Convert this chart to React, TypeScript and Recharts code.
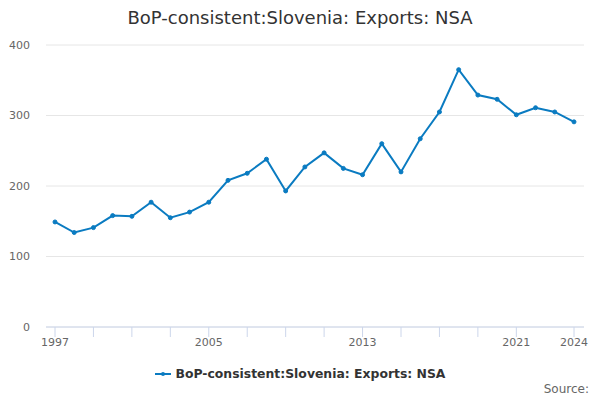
import React from "react";
import { LineChart, Line, XAxis, YAxis, CartesianGrid, Legend } from "recharts";

const years = [1997, 1998, 1999, 2000, 2001, 2002, 2003, 2004, 2005, 2006, 2007, 2008, 2009, 2010, 2011, 2012, 2013, 2014, 2015, 2016, 2017, 2018, 2019, 2020, 2021, 2022, 2023, 2024];
const exportsValues = [149, 134, 141, 158, 157, 177, 155, 163, 177, 208, 218, 238, 193, 227, 247, 225, 216, 260, 220, 267, 305, 365, 329, 323, 301, 311, 305, 291];
const xTicks = [1997, 1999, 2001, 2003, 2005, 2007, 2009, 2011, 2013, 2015, 2017, 2019, 2021, 2024];
const xLabels = [1997, 2005, 2013, 2021, 2024];
const yTicks = [0, 100, 200, 300, 400];
const seriesName = "BoP-consistent:Slovenia: Exports: NSA";
const titleText = "BoP-consistent:Slovenia: Exports: NSA";
const sourceText = "Source:";

const data = years.map((y, i) => ({ year: y, value: exportsValues[i] }));

const FONT = "'DejaVu Sans', sans-serif";
const COLOR = "#0a7bc1";

const XTick = (props: any) => {
  const { x, y, payload } = props;
  const show = xLabels.includes(payload.value);
  return (
    <g>
      <line x1={x} x2={x} y1={y - 8} y2={y + 2} stroke="#ccd6eb" strokeWidth={1} />
      {show && (
        <text x={x} y={y + 11} textAnchor="middle" fill="#666" fontSize={11} fontFamily={FONT}>
          {payload.value}
        </text>
      )}
    </g>
  );
};

const LegendContent = () => (
  <div style={{ display: "flex", justifyContent: "center", alignItems: "center", fontFamily: FONT }}>
    <svg width={16} height={10} style={{ marginRight: 5 }}>
      <line x1={0} x2={16} y1={5} y2={5} stroke={COLOR} strokeWidth={2} />
      <circle cx={8} cy={5} r={2} fill={COLOR} />
    </svg>
    <span style={{ fontSize: 12.4, fontWeight: "bold", color: "#333" }}>{seriesName}</span>
  </div>
);

export default function App() {
  return (
    <div style={{ position: "absolute", left: 0, top: 0, width: 600, height: 400, background: "#fff", fontFamily: FONT }}>
      <div style={{ position: "absolute", top: 7, left: 0, width: 600, textAlign: "center", fontSize: 18, color: "#333" }}>
        {titleText}
      </div>
      <LineChart width={600} height={400} data={data} margin={{ top: 45, right: 16, left: 0, bottom: 28 }}>
        <CartesianGrid vertical={false} stroke="#e6e6e6" />
        <XAxis
          dataKey="year"
          type="number"
          domain={[1997, 2024]}
          ticks={xTicks}
          interval={0}
          padding={{ left: 9, right: 10 }}
          axisLine={{ stroke: "#ccd6eb" }}
          tickLine={false}
          tick={<XTick />}
          height={30}
        />
        <YAxis
          domain={[0, 400]}
          ticks={yTicks}
          axisLine={false}
          tickLine={false}
          width={46}
          tickMargin={10}
          tick={{ fill: "#666", fontSize: 11, fontFamily: FONT }}
        />
        <Legend
          content={<LegendContent />}
          wrapperStyle={{ position: "absolute", top: 366, left: 0, width: 600 }}
        />
        <Line
          type="linear"
          dataKey="value"
          name={seriesName}
          stroke={COLOR}
          strokeWidth={2}
          dot={{ r: 2, fill: COLOR, stroke: COLOR, strokeWidth: 1 }}
          isAnimationActive={false}
        />
      </LineChart>
      <div style={{ position: "absolute", top: 382, right: 11, fontSize: 12, color: "#666" }}>{sourceText}</div>
    </div>
  );
}
